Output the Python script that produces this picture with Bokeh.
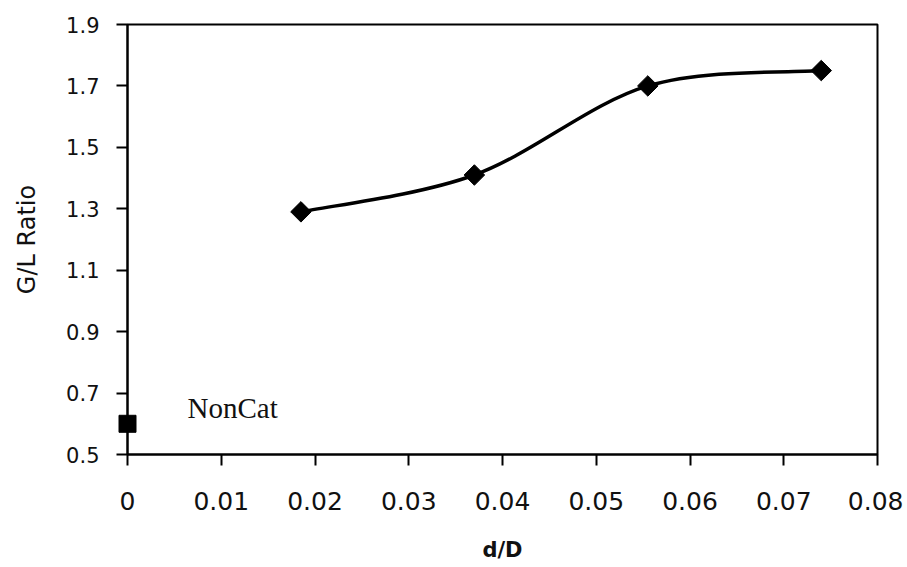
import math
from bokeh.plotting import figure
from bokeh.models import Range1d, FixedTicker, Label
from bokeh.embed import file_html
from bokeh.resources import INLINE

# ---- data ----
dD = [0.0185, 0.037, 0.0555, 0.074]
gl_ratio = [1.29, 1.41, 1.70, 1.75]
noncat_x = [0.0]
noncat_y = [0.60]
x_ticks = [0.0, 0.01, 0.02, 0.03, 0.04, 0.05, 0.06, 0.07, 0.08]
x_tick_labels = ["0", "0.01", "0.02", "0.03", "0.04", "0.05", "0.06", "0.07", "0.08"]
y_ticks = [0.5, 0.7, 0.9, 1.1, 1.3, 1.5, 1.7, 1.9]
y_tick_labels = ["0.5", "0.7", "0.9", "1.1", "1.3", "1.5", "1.7", "1.9"]

p = figure(frame_width=750, frame_height=430, output_backend="svg", toolbar_location=None,
           x_range=Range1d(0.0, 0.08), y_range=Range1d(0.5, 1.9),
           min_border_left=127, min_border_top=24, min_border_right=26, min_border_bottom=105,
           background_fill_color="white", border_fill_color="white")
p.grid.visible = False
p.outline_line_color = "black"
p.outline_line_width = 2

for ax in (p.xaxis[0], p.yaxis[0]):
    ax.axis_line_width = 2
    ax.axis_line_color = "black"
    ax.major_tick_line_width = 2
    ax.major_tick_line_color = "black"
    ax.major_tick_in = 0
    ax.major_tick_out = 11
    ax.minor_tick_line_color = None
    ax.major_label_text_font = "DejaVu Sans"
    ax.major_label_text_color = "#111111"
    ax.axis_label_text_color = "#111111"

p.xaxis[0].ticker = FixedTicker(ticks=x_ticks)
p.xaxis[0].major_label_overrides = {t: l for t, l in zip(x_ticks, x_tick_labels)}
p.xaxis[0].major_label_text_font_size = "25px"
p.xaxis[0].major_label_standoff = 26
p.xaxis[0].axis_label = "d/D"
p.xaxis[0].axis_label_text_font = "DejaVu Sans"
p.xaxis[0].axis_label_text_font_style = "bold"
p.xaxis[0].axis_label_text_font_size = "21px"
p.xaxis[0].axis_label_standoff = 25

p.yaxis[0].ticker = FixedTicker(ticks=y_ticks)
p.yaxis[0].major_label_overrides = {t: l for t, l in zip(y_ticks, y_tick_labels)}
p.yaxis[0].major_label_text_font_size = "21px"
p.yaxis[0].major_label_standoff = 17
p.yaxis[0].axis_label = "G/L Ratio"
p.yaxis[0].axis_label_text_font = "DejaVu Sans"
p.yaxis[0].axis_label_text_font_style = "normal"
p.yaxis[0].axis_label_text_font_size = "24px"
p.yaxis[0].axis_label_standoff = 22

# smoothed (Catmull-Rom style) curve through the data points
n = len(dD)
x0, y0, x1, y1, cx0, cy0, cx1, cy1 = [], [], [], [], [], [], [], []
for i in range(n - 1):
    pxm = dD[i - 1] if i > 0 else dD[i]
    pym = gl_ratio[i - 1] if i > 0 else gl_ratio[i]
    pxp = dD[i + 2] if i + 2 < n else dD[i + 1]
    pyp = gl_ratio[i + 2] if i + 2 < n else gl_ratio[i + 1]
    x0.append(dD[i]); y0.append(gl_ratio[i])
    x1.append(dD[i + 1]); y1.append(gl_ratio[i + 1])
    cx0.append(dD[i] + (dD[i + 1] - pxm) / 6)
    cy0.append(gl_ratio[i] + (gl_ratio[i + 1] - pym) / 6)
    cx1.append(dD[i + 1] - (pxp - dD[i]) / 6)
    cy1.append(gl_ratio[i + 1] - (pyp - gl_ratio[i]) / 6)

p.bezier(x0=x0, y0=y0, x1=x1, y1=y1, cx0=cx0, cy0=cy0, cx1=cx1, cy1=cy1,
         line_color="black", line_width=3.5)
p.scatter(dD, gl_ratio, marker="square", angle=math.pi / 4, size=14.5,
          fill_color="black", line_color="black")
# overlay level so the NonCat square is not clipped at the frame edge
p.scatter(noncat_x, noncat_y, marker="square", size=17, fill_color="black",
          line_color="black", level="overlay")

p.add_layout(Label(x=noncat_x[0], y=noncat_y[0], x_offset=60, y_offset=16, text="NonCat",
                   text_font="Liberation Serif", text_font_size="29px", text_color="#111111",
                   text_baseline="alphabetic"))

open("out.html", "w").write(file_html(p, INLINE))
